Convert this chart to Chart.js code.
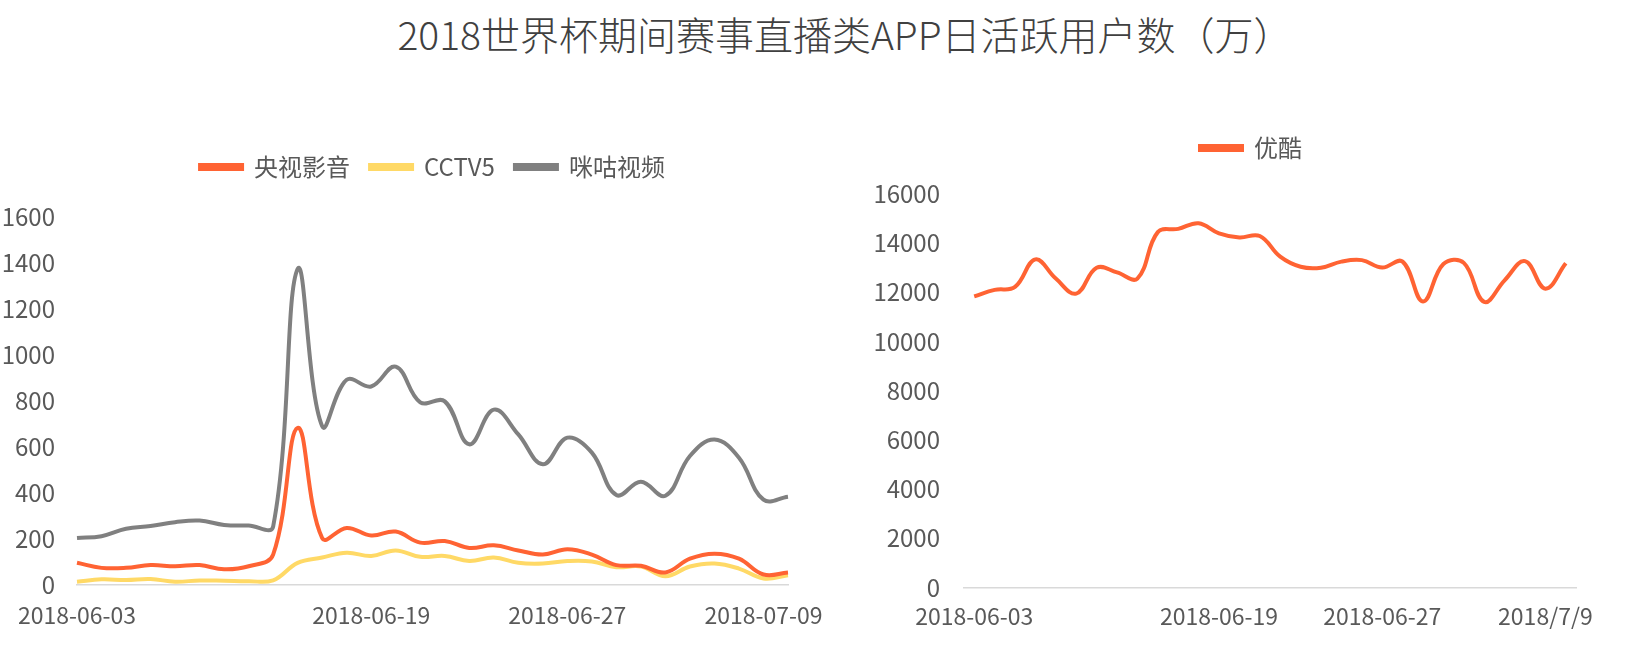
<!DOCTYPE html>
<html lang="zh-CN">
<head>
  <meta charset="UTF-8" />
  <title>2018世界杯期间赛事直播类APP日活跃用户数（万）</title>
  <script src="https://cdn.jsdelivr.net/npm/chart.js"></script>
  <style>
    * { box-sizing: border-box; }
    body {
      margin: 0;
      width: 1633px;
      height: 667px;
      background: #fff;
      position: relative;
      overflow: hidden;
      font-family: 'Noto Sans CJK SC', 'Noto Sans', sans-serif;
    }
    #title {
      position: absolute;
      top: 14px;
      left: 845px;
      transform: translateX(-50%);
      white-space: nowrap;
      font-size: 39px;
      line-height: 1;
      color: #404040;
      font-weight: 300;
    }
    canvas { position: absolute; top: 0; }
    #leftChart { left: 0; }
    #rightChart { left: 830px; }
  </style>
</head>
<body>
  <div id="title">2018世界杯期间赛事直播类APP日活跃用户数（万）</div>
  <canvas id="leftChart" width="830" height="667"></canvas>
  <canvas id="rightChart" width="803" height="667"></canvas>

  <script>
    // categories (dates with data)
    const dates = [
      '2018-06-03', '2018-06-05', '2018-06-07', '2018-06-08', '2018-06-09',
      '2018-06-10', '2018-06-11', '2018-06-12', '2018-06-13', '2018-06-14',
      '2018-06-15', '2018-06-17', '2018-06-19', '2018-06-20', '2018-06-21',
      '2018-06-22', '2018-06-23', '2018-06-24', '2018-06-25', '2018-06-26',
      '2018-06-27', '2018-06-28', '2018-06-30', '2018-07-01', '2018-07-02',
      '2018-07-03', '2018-07-06', '2018-07-07', '2018-07-09', '2018-07-10'
    ];
    const youkuDates = [
      '2018-06-03', '2018-06-05', '2018-06-07', '2018-06-08', '2018-06-09',
      '2018-06-10', '2018-06-11', '2018-06-12', '2018-06-13', '2018-06-14',
      '2018-06-15', '2018-06-17', '2018-06-19', '2018-06-20', '2018-06-21',
      '2018-06-22', '2018-06-23', '2018-06-24', '2018-06-25', '2018-06-26',
      '2018-06-27', '2018-06-28', '2018-06-30', '2018-07-01', '2018-07-02',
      '2018-07-03', '2018-07-06', '2018-07-07', '2018/7/9', '2018-07-10'
    ];

    // series (万)
    const cctvVideo = [94, 72, 72, 84, 79, 84, 66, 79, 130, 682, 202, 246, 213, 230, 182,
                       189, 159, 170, 148, 130, 153, 130, 84, 81, 52, 112, 134, 112, 43, 52];
    const cctv5 = [12, 22, 19, 23, 12, 17, 16, 14, 18, 94, 117, 138, 124, 148, 120,
                   124, 102, 117, 94, 91, 102, 100, 75, 78, 36, 78, 91, 69, 26, 40];
    const migu = [202, 210, 242, 254, 271, 278, 259, 256, 252, 1374, 689, 891, 862, 948, 793,
                  797, 610, 761, 653, 523, 639, 574, 389, 447, 386, 559, 631, 552, 369, 382];
    const youku = [11840, 12100, 12220, 13340, 12560, 11950, 13000, 12810, 12560, 14450,
                   14580, 14810, 14400, 14230, 14290, 13450, 13040, 13000, 13250, 13310,
                   13010, 13250, 11630, 13150, 13200, 11610, 12490, 13270, 12150, 13180];

    // tick labels shown on the x axes
    const leftTicks = ['2018-06-03', '2018-06-19', '2018-06-27', '2018-07-09'];
    const rightTicks = ['2018-06-03', '2018-06-19', '2018-06-27', '2018/7/9'];

    const ORANGE = '#FF6333';
    const YELLOW = '#FFD966';
    const GRAY = '#808080';
    const TEXT = '#595959';

    Chart.defaults.font.family = "'Noto Sans CJK SC', 'Noto Sans', sans-serif";
    Chart.defaults.color = TEXT;

    // extra space under the legend, and a sideways nudge
    const legendTweak = (gap, dx) => ({
      id: 'legendTweak',
      beforeInit(chart) {
        const legend = chart.legend;
        const fit = legend.fit;
        const draw = legend.draw;
        legend.fit = function () {
          fit.call(this);
          this.height += gap;
        };
        legend.draw = function (area) {
          const ctx = this.ctx;
          ctx.save();
          ctx.translate(dx, 0);
          draw.call(this, area);
          ctx.restore();
        };
      }
    });

    function line(label, data, color) {
      return {
        label,
        data,
        borderColor: color,
        backgroundColor: color,
        borderWidth: 4,
        pointRadius: 0,
        tension: 0.4,
        fill: false
      };
    }

    function options(cfg) {
      return {
        responsive: false,
        animation: false,
        layout: { padding: cfg.padding },
        plugins: {
          legend: {
            fullSize: false,
            labels: {
              boxWidth: 42,
              boxHeight: 4,
              padding: 20,
              color: TEXT,
              font: { size: 24 }
            }
          },
          tooltip: { enabled: false }
        },
        scales: {
          x: {
            offset: cfg.offset,
            grid: { display: false, drawTicks: false },
            border: { display: true, color: '#D9D9D9', width: 1.5 },
            ticks: {
              autoSkip: false,
              maxRotation: 0,
              minRotation: 0,
              padding: cfg.xPad,
              font: { size: 23 },
              color: TEXT,
              callback: function (value) {
                const lab = this.getLabelForValue(value);
                return cfg.ticks.includes(lab) ? lab : '';
              }
            }
          },
          y: {
            min: 0,
            max: cfg.max,
            afterFit: (scale) => { scale.width = cfg.yWidth; },
            grid: { display: false, drawTicks: false },
            border: { display: false },
            ticks: {
              stepSize: cfg.step,
              padding: cfg.yPad,
              font: { size: 24 },
              color: TEXT,
              callback: (v) => String(v)
            }
          }
        }
      };
    }

    new Chart(document.getElementById('leftChart'), {
      type: 'line',
      data: {
        labels: dates,
        datasets: [
          line('央视影音', cctvVideo, ORANGE),
          line('CCTV5', cctv5, YELLOW),
          line('咪咕视频', migu, GRAY)
        ]
      },
      options: options({
        padding: { top: 135, left: 0, right: 42, bottom: 21 },
        offset: false, ticks: leftTicks, xPad: 17,
        max: 1600, step: 200, yWidth: 77, yPad: 22
      }),
      plugins: [legendTweak(28, 0)]
    });

    new Chart(document.getElementById('rightChart'), {
      type: 'line',
      data: {
        labels: youkuDates,
        datasets: [line('优酷', youku, ORANGE)]
      },
      options: options({
        padding: { top: 116, left: 0, right: 57, bottom: 22 },
        offset: true, ticks: rightTicks, xPad: 15,
        max: 16000, step: 2000, yWidth: 134, yPad: 24
      }),
      plugins: [legendTweak(24, -19)]
    });
  </script>
</body>
</html>
